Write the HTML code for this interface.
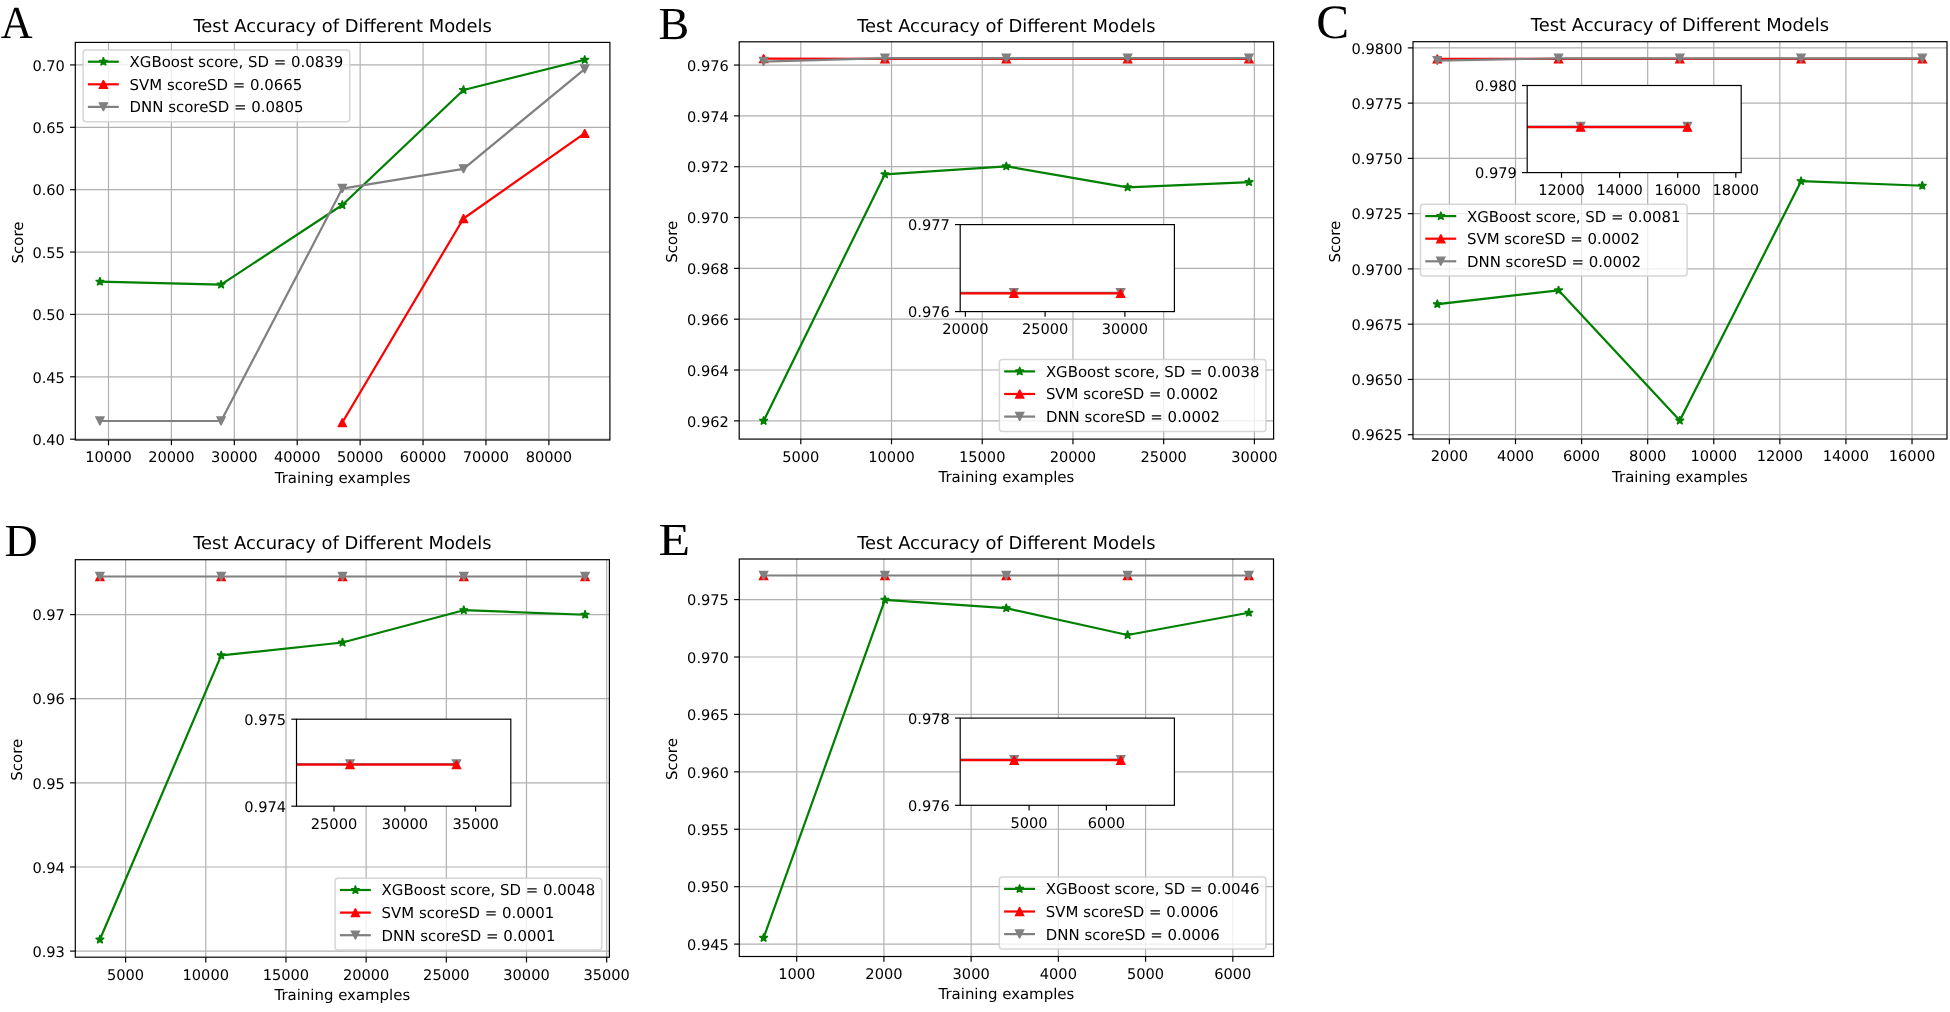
<!DOCTYPE html>
<html><head><meta charset="utf-8"><title>Test Accuracy of Different Models</title>
<style>
html,body{margin:0;padding:0;background:#fff;}
body{width:1950px;height:1012px;overflow:hidden;}
svg{display:block;filter:blur(0.3px);}
svg text{fill:#000;text-rendering:geometricPrecision;}
</style></head>
<body>
<svg width="1950" height="1012" viewBox="0 0 1950 1012">
<defs>
<clipPath id="Ac"><rect x="75.3" y="42.4" width="534.6" height="397.6"/></clipPath>
<clipPath id="Bc"><rect x="739.2" y="41.8" width="534.4" height="397.3"/></clipPath>
<clipPath id="Bi"><rect x="960.2" y="224.6" width="214.2" height="87"/></clipPath>
<clipPath id="Cc"><rect x="1413" y="41.7" width="534" height="397.3"/></clipPath>
<clipPath id="Ci"><rect x="1527.2" y="85.5" width="214" height="87.1"/></clipPath>
<clipPath id="Dc"><rect x="75.3" y="559.7" width="534.1" height="397.5"/></clipPath>
<clipPath id="Di"><rect x="296.5" y="719.2" width="214.3" height="87"/></clipPath>
<clipPath id="Ec"><rect x="739.3" y="559" width="534.2" height="397.5"/></clipPath>
<clipPath id="Ei"><rect x="960.2" y="718.1" width="214.2" height="87.2"/></clipPath>
</defs>
<rect x="0" y="0" width="1950" height="1012" fill="#fff"/>
<rect x="75.3" y="42.4" width="534.6" height="397.6" fill="#fff"/>
<line x1="108.5" y1="42.4" x2="108.5" y2="440" stroke="#b0b0b0" stroke-width="1.19"/>
<line x1="171.41" y1="42.4" x2="171.41" y2="440" stroke="#b0b0b0" stroke-width="1.19"/>
<line x1="234.32" y1="42.4" x2="234.32" y2="440" stroke="#b0b0b0" stroke-width="1.19"/>
<line x1="297.23" y1="42.4" x2="297.23" y2="440" stroke="#b0b0b0" stroke-width="1.19"/>
<line x1="360.14" y1="42.4" x2="360.14" y2="440" stroke="#b0b0b0" stroke-width="1.19"/>
<line x1="423.05" y1="42.4" x2="423.05" y2="440" stroke="#b0b0b0" stroke-width="1.19"/>
<line x1="485.96" y1="42.4" x2="485.96" y2="440" stroke="#b0b0b0" stroke-width="1.19"/>
<line x1="548.87" y1="42.4" x2="548.87" y2="440" stroke="#b0b0b0" stroke-width="1.19"/>
<line x1="75.3" y1="439.2" x2="609.9" y2="439.2" stroke="#b0b0b0" stroke-width="1.19"/>
<line x1="75.3" y1="376.82" x2="609.9" y2="376.82" stroke="#b0b0b0" stroke-width="1.19"/>
<line x1="75.3" y1="314.44" x2="609.9" y2="314.44" stroke="#b0b0b0" stroke-width="1.19"/>
<line x1="75.3" y1="252.06" x2="609.9" y2="252.06" stroke="#b0b0b0" stroke-width="1.19"/>
<line x1="75.3" y1="189.68" x2="609.9" y2="189.68" stroke="#b0b0b0" stroke-width="1.19"/>
<line x1="75.3" y1="127.3" x2="609.9" y2="127.3" stroke="#b0b0b0" stroke-width="1.19"/>
<line x1="75.3" y1="64.92" x2="609.9" y2="64.92" stroke="#b0b0b0" stroke-width="1.19"/>
<g clip-path="url(#Ac)">
<polyline points="99.9,281.7 221.1,284.6 342.3,205 463.5,90 584.7,59.8" fill="none" stroke="#008000" stroke-width="2.22" stroke-linejoin="round" stroke-linecap="square"/>
<path d="M99.9 277.25 L98.9 280.32 L95.67 280.32 L98.28 282.23 L97.28 285.3 L99.9 283.4 L102.52 285.3 L101.52 282.23 L104.13 280.32 L100.9 280.32 Z" fill="#008000" stroke="#008000" stroke-width="1.3" stroke-linejoin="bevel" stroke-miterlimit="2"/>
<path d="M221.1 280.15 L220.1 283.22 L216.87 283.22 L219.48 285.13 L218.48 288.2 L221.1 286.3 L223.72 288.2 L222.72 285.13 L225.33 283.22 L222.1 283.22 Z" fill="#008000" stroke="#008000" stroke-width="1.3" stroke-linejoin="bevel" stroke-miterlimit="2"/>
<path d="M342.3 200.55 L341.3 203.62 L338.07 203.62 L340.68 205.53 L339.68 208.6 L342.3 206.7 L344.92 208.6 L343.92 205.53 L346.53 203.62 L343.3 203.62 Z" fill="#008000" stroke="#008000" stroke-width="1.3" stroke-linejoin="bevel" stroke-miterlimit="2"/>
<path d="M463.5 85.55 L462.5 88.62 L459.27 88.62 L461.88 90.53 L460.88 93.6 L463.5 91.7 L466.12 93.6 L465.12 90.53 L467.73 88.62 L464.5 88.62 Z" fill="#008000" stroke="#008000" stroke-width="1.3" stroke-linejoin="bevel" stroke-miterlimit="2"/>
<path d="M584.7 55.35 L583.7 58.42 L580.47 58.42 L583.08 60.33 L582.08 63.4 L584.7 61.5 L587.32 63.4 L586.32 60.33 L588.93 58.42 L585.7 58.42 Z" fill="#008000" stroke="#008000" stroke-width="1.3" stroke-linejoin="bevel" stroke-miterlimit="2"/>
</g>
<g clip-path="url(#Ac)">
<polyline points="342.3,422.6 463.5,218.5 584.7,133.3" fill="none" stroke="#ff0000" stroke-width="2.22" stroke-linejoin="round" stroke-linecap="square"/>
<path d="M342.3 418.5 L338.2 426.7 L346.4 426.7 Z" fill="#ff0000" stroke="#ff0000" stroke-width="1.3" stroke-linejoin="miter" stroke-miterlimit="2"/>
<path d="M463.5 214.4 L459.4 222.6 L467.6 222.6 Z" fill="#ff0000" stroke="#ff0000" stroke-width="1.3" stroke-linejoin="miter" stroke-miterlimit="2"/>
<path d="M584.7 129.2 L580.6 137.4 L588.8 137.4 Z" fill="#ff0000" stroke="#ff0000" stroke-width="1.3" stroke-linejoin="miter" stroke-miterlimit="2"/>
</g>
<g clip-path="url(#Ac)">
<polyline points="99.9,421 221.1,421 342.3,188.6 463.5,168.9 584.7,69" fill="none" stroke="#808080" stroke-width="2.22" stroke-linejoin="round" stroke-linecap="square"/>
<path d="M99.9 425.1 L95.8 416.9 L104 416.9 Z" fill="#808080" stroke="#808080" stroke-width="1.3" stroke-linejoin="miter" stroke-miterlimit="2"/>
<path d="M221.1 425.1 L217 416.9 L225.2 416.9 Z" fill="#808080" stroke="#808080" stroke-width="1.3" stroke-linejoin="miter" stroke-miterlimit="2"/>
<path d="M342.3 192.7 L338.2 184.5 L346.4 184.5 Z" fill="#808080" stroke="#808080" stroke-width="1.3" stroke-linejoin="miter" stroke-miterlimit="2"/>
<path d="M463.5 173 L459.4 164.8 L467.6 164.8 Z" fill="#808080" stroke="#808080" stroke-width="1.3" stroke-linejoin="miter" stroke-miterlimit="2"/>
<path d="M584.7 73.1 L580.6 64.9 L588.8 64.9 Z" fill="#808080" stroke="#808080" stroke-width="1.3" stroke-linejoin="miter" stroke-miterlimit="2"/>
</g>
<rect x="75.3" y="42.4" width="534.6" height="397.6" fill="none" stroke="#000" stroke-width="1.19"/>
<line x1="108.5" y1="440" x2="108.5" y2="445.2" stroke="#000" stroke-width="1.19"/>
<text x="108.5" y="462.4" font-size="14.6" text-anchor="middle" font-family="'DejaVu Sans', 'Liberation Sans', sans-serif">10000</text>
<line x1="171.41" y1="440" x2="171.41" y2="445.2" stroke="#000" stroke-width="1.19"/>
<text x="171.41" y="462.4" font-size="14.6" text-anchor="middle" font-family="'DejaVu Sans', 'Liberation Sans', sans-serif">20000</text>
<line x1="234.32" y1="440" x2="234.32" y2="445.2" stroke="#000" stroke-width="1.19"/>
<text x="234.32" y="462.4" font-size="14.6" text-anchor="middle" font-family="'DejaVu Sans', 'Liberation Sans', sans-serif">30000</text>
<line x1="297.23" y1="440" x2="297.23" y2="445.2" stroke="#000" stroke-width="1.19"/>
<text x="297.23" y="462.4" font-size="14.6" text-anchor="middle" font-family="'DejaVu Sans', 'Liberation Sans', sans-serif">40000</text>
<line x1="360.14" y1="440" x2="360.14" y2="445.2" stroke="#000" stroke-width="1.19"/>
<text x="360.14" y="462.4" font-size="14.6" text-anchor="middle" font-family="'DejaVu Sans', 'Liberation Sans', sans-serif">50000</text>
<line x1="423.05" y1="440" x2="423.05" y2="445.2" stroke="#000" stroke-width="1.19"/>
<text x="423.05" y="462.4" font-size="14.6" text-anchor="middle" font-family="'DejaVu Sans', 'Liberation Sans', sans-serif">60000</text>
<line x1="485.96" y1="440" x2="485.96" y2="445.2" stroke="#000" stroke-width="1.19"/>
<text x="485.96" y="462.4" font-size="14.6" text-anchor="middle" font-family="'DejaVu Sans', 'Liberation Sans', sans-serif">70000</text>
<line x1="548.87" y1="440" x2="548.87" y2="445.2" stroke="#000" stroke-width="1.19"/>
<text x="548.87" y="462.4" font-size="14.6" text-anchor="middle" font-family="'DejaVu Sans', 'Liberation Sans', sans-serif">80000</text>
<line x1="70.1" y1="439.2" x2="75.3" y2="439.2" stroke="#000" stroke-width="1.19"/>
<text x="64.9" y="444.9" font-size="14.6" text-anchor="end" font-family="'DejaVu Sans', 'Liberation Sans', sans-serif">0.40</text>
<line x1="70.1" y1="376.82" x2="75.3" y2="376.82" stroke="#000" stroke-width="1.19"/>
<text x="64.9" y="382.52" font-size="14.6" text-anchor="end" font-family="'DejaVu Sans', 'Liberation Sans', sans-serif">0.45</text>
<line x1="70.1" y1="314.44" x2="75.3" y2="314.44" stroke="#000" stroke-width="1.19"/>
<text x="64.9" y="320.14" font-size="14.6" text-anchor="end" font-family="'DejaVu Sans', 'Liberation Sans', sans-serif">0.50</text>
<line x1="70.1" y1="252.06" x2="75.3" y2="252.06" stroke="#000" stroke-width="1.19"/>
<text x="64.9" y="257.76" font-size="14.6" text-anchor="end" font-family="'DejaVu Sans', 'Liberation Sans', sans-serif">0.55</text>
<line x1="70.1" y1="189.68" x2="75.3" y2="189.68" stroke="#000" stroke-width="1.19"/>
<text x="64.9" y="195.38" font-size="14.6" text-anchor="end" font-family="'DejaVu Sans', 'Liberation Sans', sans-serif">0.60</text>
<line x1="70.1" y1="127.3" x2="75.3" y2="127.3" stroke="#000" stroke-width="1.19"/>
<text x="64.9" y="133" font-size="14.6" text-anchor="end" font-family="'DejaVu Sans', 'Liberation Sans', sans-serif">0.65</text>
<line x1="70.1" y1="64.92" x2="75.3" y2="64.92" stroke="#000" stroke-width="1.19"/>
<text x="64.9" y="70.62" font-size="14.6" text-anchor="end" font-family="'DejaVu Sans', 'Liberation Sans', sans-serif">0.70</text>
<text x="342.6" y="482.6" font-size="14.95" text-anchor="middle" font-family="'DejaVu Sans', 'Liberation Sans', sans-serif">Training examples</text>
<text x="0" y="0" font-size="14.95" text-anchor="middle" font-family="'DejaVu Sans', 'Liberation Sans', sans-serif" transform="translate(22.7 242.5) rotate(-90)">Score</text>
<text x="342.6" y="32.1" font-size="17.9" text-anchor="middle" font-family="'DejaVu Sans', 'Liberation Sans', sans-serif">Test Accuracy of Different Models</text>
<rect x="83.1" y="49.9" width="266.6" height="71.8" rx="3" ry="3" fill="#fff" fill-opacity="0.8" stroke="#cccccc" stroke-opacity="0.8" stroke-width="1.49"/>
<line x1="89" y1="61.7" x2="117.7" y2="61.7" stroke="#008000" stroke-width="2.22" stroke-linecap="square"/>
<path d="M103.4 57.25 L102.4 60.32 L99.17 60.32 L101.78 62.23 L100.78 65.3 L103.4 63.4 L106.02 65.3 L105.02 62.23 L107.63 60.32 L104.4 60.32 Z" fill="#008000" stroke="#008000" stroke-width="1.3" stroke-linejoin="bevel" stroke-miterlimit="2"/>
<text x="129.6" y="67.15" font-size="14.95" text-anchor="start" font-family="'DejaVu Sans', 'Liberation Sans', sans-serif">XGBoost score, SD = 0.0839</text>
<line x1="89" y1="84.3" x2="117.7" y2="84.3" stroke="#ff0000" stroke-width="2.22" stroke-linecap="square"/>
<path d="M103.4 80.2 L99.3 88.4 L107.5 88.4 Z" fill="#ff0000" stroke="#ff0000" stroke-width="1.3" stroke-linejoin="miter" stroke-miterlimit="2"/>
<text x="129.6" y="89.75" font-size="14.95" text-anchor="start" font-family="'DejaVu Sans', 'Liberation Sans', sans-serif">SVM scoreSD = 0.0665</text>
<line x1="89" y1="106.9" x2="117.7" y2="106.9" stroke="#808080" stroke-width="2.22" stroke-linecap="square"/>
<path d="M103.4 111 L99.3 102.8 L107.5 102.8 Z" fill="#808080" stroke="#808080" stroke-width="1.3" stroke-linejoin="miter" stroke-miterlimit="2"/>
<text x="129.6" y="112.35" font-size="14.95" text-anchor="start" font-family="'DejaVu Sans', 'Liberation Sans', sans-serif">DNN scoreSD = 0.0805</text>
<text x="0" y="0" font-size="46" text-anchor="start" font-family="'Liberation Serif', 'Times New Roman', serif" transform="translate(0.8 37.8) scale(0.957 1.0)">A</text>
<rect x="739.2" y="41.8" width="534.4" height="397.3" fill="#fff"/>
<line x1="800.8" y1="41.8" x2="800.8" y2="439.1" stroke="#b0b0b0" stroke-width="1.19"/>
<line x1="891.52" y1="41.8" x2="891.52" y2="439.1" stroke="#b0b0b0" stroke-width="1.19"/>
<line x1="982.24" y1="41.8" x2="982.24" y2="439.1" stroke="#b0b0b0" stroke-width="1.19"/>
<line x1="1072.96" y1="41.8" x2="1072.96" y2="439.1" stroke="#b0b0b0" stroke-width="1.19"/>
<line x1="1163.68" y1="41.8" x2="1163.68" y2="439.1" stroke="#b0b0b0" stroke-width="1.19"/>
<line x1="1254.4" y1="41.8" x2="1254.4" y2="439.1" stroke="#b0b0b0" stroke-width="1.19"/>
<line x1="739.2" y1="420.85" x2="1273.6" y2="420.85" stroke="#b0b0b0" stroke-width="1.19"/>
<line x1="739.2" y1="370.02" x2="1273.6" y2="370.02" stroke="#b0b0b0" stroke-width="1.19"/>
<line x1="739.2" y1="319.19" x2="1273.6" y2="319.19" stroke="#b0b0b0" stroke-width="1.19"/>
<line x1="739.2" y1="268.36" x2="1273.6" y2="268.36" stroke="#b0b0b0" stroke-width="1.19"/>
<line x1="739.2" y1="217.53" x2="1273.6" y2="217.53" stroke="#b0b0b0" stroke-width="1.19"/>
<line x1="739.2" y1="166.7" x2="1273.6" y2="166.7" stroke="#b0b0b0" stroke-width="1.19"/>
<line x1="739.2" y1="115.87" x2="1273.6" y2="115.87" stroke="#b0b0b0" stroke-width="1.19"/>
<line x1="739.2" y1="65.04" x2="1273.6" y2="65.04" stroke="#b0b0b0" stroke-width="1.19"/>
<g clip-path="url(#Bc)">
<polyline points="763.6,420.9 884.95,174.3 1006.3,166.3 1127.65,187.3 1249,182.1" fill="none" stroke="#008000" stroke-width="2.22" stroke-linejoin="round" stroke-linecap="square"/>
<path d="M763.6 416.45 L762.6 419.52 L759.37 419.52 L761.98 421.43 L760.98 424.5 L763.6 422.6 L766.22 424.5 L765.22 421.43 L767.83 419.52 L764.6 419.52 Z" fill="#008000" stroke="#008000" stroke-width="1.3" stroke-linejoin="bevel" stroke-miterlimit="2"/>
<path d="M884.95 169.85 L883.95 172.92 L880.72 172.92 L883.33 174.83 L882.33 177.9 L884.95 176 L887.57 177.9 L886.57 174.83 L889.18 172.92 L885.95 172.92 Z" fill="#008000" stroke="#008000" stroke-width="1.3" stroke-linejoin="bevel" stroke-miterlimit="2"/>
<path d="M1006.3 161.85 L1005.3 164.92 L1002.07 164.92 L1004.68 166.83 L1003.68 169.9 L1006.3 168 L1008.92 169.9 L1007.92 166.83 L1010.53 164.92 L1007.3 164.92 Z" fill="#008000" stroke="#008000" stroke-width="1.3" stroke-linejoin="bevel" stroke-miterlimit="2"/>
<path d="M1127.65 182.85 L1126.65 185.92 L1123.42 185.92 L1126.03 187.83 L1125.03 190.9 L1127.65 189 L1130.27 190.9 L1129.27 187.83 L1131.88 185.92 L1128.65 185.92 Z" fill="#008000" stroke="#008000" stroke-width="1.3" stroke-linejoin="bevel" stroke-miterlimit="2"/>
<path d="M1249 177.65 L1248 180.72 L1244.77 180.72 L1247.38 182.63 L1246.38 185.7 L1249 183.8 L1251.62 185.7 L1250.62 182.63 L1253.23 180.72 L1250 180.72 Z" fill="#008000" stroke="#008000" stroke-width="1.3" stroke-linejoin="bevel" stroke-miterlimit="2"/>
</g>
<g clip-path="url(#Bc)">
<polyline points="763.6,58.6 884.95,58.8 1006.3,58.8 1127.65,58.8 1249,58.8" fill="none" stroke="#ff0000" stroke-width="2.22" stroke-linejoin="round" stroke-linecap="square"/>
<path d="M763.6 54.5 L759.5 62.7 L767.7 62.7 Z" fill="#ff0000" stroke="#ff0000" stroke-width="1.3" stroke-linejoin="miter" stroke-miterlimit="2"/>
<path d="M884.95 54.7 L880.85 62.9 L889.05 62.9 Z" fill="#ff0000" stroke="#ff0000" stroke-width="1.3" stroke-linejoin="miter" stroke-miterlimit="2"/>
<path d="M1006.3 54.7 L1002.2 62.9 L1010.4 62.9 Z" fill="#ff0000" stroke="#ff0000" stroke-width="1.3" stroke-linejoin="miter" stroke-miterlimit="2"/>
<path d="M1127.65 54.7 L1123.55 62.9 L1131.75 62.9 Z" fill="#ff0000" stroke="#ff0000" stroke-width="1.3" stroke-linejoin="miter" stroke-miterlimit="2"/>
<path d="M1249 54.7 L1244.9 62.9 L1253.1 62.9 Z" fill="#ff0000" stroke="#ff0000" stroke-width="1.3" stroke-linejoin="miter" stroke-miterlimit="2"/>
</g>
<g clip-path="url(#Bc)">
<polyline points="763.6,61.5 884.95,58.2 1006.3,58.2 1127.65,58.2 1249,58.2" fill="none" stroke="#808080" stroke-width="2.22" stroke-linejoin="round" stroke-linecap="square"/>
<path d="M763.6 65.6 L759.5 57.4 L767.7 57.4 Z" fill="#808080" stroke="#808080" stroke-width="1.3" stroke-linejoin="miter" stroke-miterlimit="2"/>
<path d="M884.95 62.3 L880.85 54.1 L889.05 54.1 Z" fill="#808080" stroke="#808080" stroke-width="1.3" stroke-linejoin="miter" stroke-miterlimit="2"/>
<path d="M1006.3 62.3 L1002.2 54.1 L1010.4 54.1 Z" fill="#808080" stroke="#808080" stroke-width="1.3" stroke-linejoin="miter" stroke-miterlimit="2"/>
<path d="M1127.65 62.3 L1123.55 54.1 L1131.75 54.1 Z" fill="#808080" stroke="#808080" stroke-width="1.3" stroke-linejoin="miter" stroke-miterlimit="2"/>
<path d="M1249 62.3 L1244.9 54.1 L1253.1 54.1 Z" fill="#808080" stroke="#808080" stroke-width="1.3" stroke-linejoin="miter" stroke-miterlimit="2"/>
</g>
<rect x="739.2" y="41.8" width="534.4" height="397.3" fill="none" stroke="#000" stroke-width="1.19"/>
<line x1="800.8" y1="439.1" x2="800.8" y2="444.3" stroke="#000" stroke-width="1.19"/>
<text x="800.8" y="461.5" font-size="14.6" text-anchor="middle" font-family="'DejaVu Sans', 'Liberation Sans', sans-serif">5000</text>
<line x1="891.52" y1="439.1" x2="891.52" y2="444.3" stroke="#000" stroke-width="1.19"/>
<text x="891.52" y="461.5" font-size="14.6" text-anchor="middle" font-family="'DejaVu Sans', 'Liberation Sans', sans-serif">10000</text>
<line x1="982.24" y1="439.1" x2="982.24" y2="444.3" stroke="#000" stroke-width="1.19"/>
<text x="982.24" y="461.5" font-size="14.6" text-anchor="middle" font-family="'DejaVu Sans', 'Liberation Sans', sans-serif">15000</text>
<line x1="1072.96" y1="439.1" x2="1072.96" y2="444.3" stroke="#000" stroke-width="1.19"/>
<text x="1072.96" y="461.5" font-size="14.6" text-anchor="middle" font-family="'DejaVu Sans', 'Liberation Sans', sans-serif">20000</text>
<line x1="1163.68" y1="439.1" x2="1163.68" y2="444.3" stroke="#000" stroke-width="1.19"/>
<text x="1163.68" y="461.5" font-size="14.6" text-anchor="middle" font-family="'DejaVu Sans', 'Liberation Sans', sans-serif">25000</text>
<line x1="1254.4" y1="439.1" x2="1254.4" y2="444.3" stroke="#000" stroke-width="1.19"/>
<text x="1254.4" y="461.5" font-size="14.6" text-anchor="middle" font-family="'DejaVu Sans', 'Liberation Sans', sans-serif">30000</text>
<line x1="734" y1="420.85" x2="739.2" y2="420.85" stroke="#000" stroke-width="1.19"/>
<text x="728.8" y="426.55" font-size="14.6" text-anchor="end" font-family="'DejaVu Sans', 'Liberation Sans', sans-serif">0.962</text>
<line x1="734" y1="370.02" x2="739.2" y2="370.02" stroke="#000" stroke-width="1.19"/>
<text x="728.8" y="375.72" font-size="14.6" text-anchor="end" font-family="'DejaVu Sans', 'Liberation Sans', sans-serif">0.964</text>
<line x1="734" y1="319.19" x2="739.2" y2="319.19" stroke="#000" stroke-width="1.19"/>
<text x="728.8" y="324.89" font-size="14.6" text-anchor="end" font-family="'DejaVu Sans', 'Liberation Sans', sans-serif">0.966</text>
<line x1="734" y1="268.36" x2="739.2" y2="268.36" stroke="#000" stroke-width="1.19"/>
<text x="728.8" y="274.06" font-size="14.6" text-anchor="end" font-family="'DejaVu Sans', 'Liberation Sans', sans-serif">0.968</text>
<line x1="734" y1="217.53" x2="739.2" y2="217.53" stroke="#000" stroke-width="1.19"/>
<text x="728.8" y="223.23" font-size="14.6" text-anchor="end" font-family="'DejaVu Sans', 'Liberation Sans', sans-serif">0.970</text>
<line x1="734" y1="166.7" x2="739.2" y2="166.7" stroke="#000" stroke-width="1.19"/>
<text x="728.8" y="172.4" font-size="14.6" text-anchor="end" font-family="'DejaVu Sans', 'Liberation Sans', sans-serif">0.972</text>
<line x1="734" y1="115.87" x2="739.2" y2="115.87" stroke="#000" stroke-width="1.19"/>
<text x="728.8" y="121.57" font-size="14.6" text-anchor="end" font-family="'DejaVu Sans', 'Liberation Sans', sans-serif">0.974</text>
<line x1="734" y1="65.04" x2="739.2" y2="65.04" stroke="#000" stroke-width="1.19"/>
<text x="728.8" y="70.74" font-size="14.6" text-anchor="end" font-family="'DejaVu Sans', 'Liberation Sans', sans-serif">0.976</text>
<text x="1006.4" y="481.7" font-size="14.95" text-anchor="middle" font-family="'DejaVu Sans', 'Liberation Sans', sans-serif">Training examples</text>
<text x="0" y="0" font-size="14.95" text-anchor="middle" font-family="'DejaVu Sans', 'Liberation Sans', sans-serif" transform="translate(676.8 241.75) rotate(-90)">Score</text>
<text x="1006.4" y="31.5" font-size="17.9" text-anchor="middle" font-family="'DejaVu Sans', 'Liberation Sans', sans-serif">Test Accuracy of Different Models</text>
<rect x="960.2" y="224.6" width="214.2" height="87" fill="#fff"/>
<g clip-path="url(#Bi)">
<polyline points="800.5,292.8 907.2,292.8 1013.9,292.8 1120.6,292.8" fill="none" stroke="#808080" stroke-width="2.22" stroke-linejoin="round" stroke-linecap="square"/>
<path d="M800.5 296.9 L796.4 288.7 L804.6 288.7 Z" fill="#808080" stroke="#808080" stroke-width="1.3" stroke-linejoin="miter" stroke-miterlimit="2"/>
<path d="M907.2 296.9 L903.1 288.7 L911.3 288.7 Z" fill="#808080" stroke="#808080" stroke-width="1.3" stroke-linejoin="miter" stroke-miterlimit="2"/>
<path d="M1013.9 296.9 L1009.8 288.7 L1018 288.7 Z" fill="#808080" stroke="#808080" stroke-width="1.3" stroke-linejoin="miter" stroke-miterlimit="2"/>
<path d="M1120.6 296.9 L1116.5 288.7 L1124.7 288.7 Z" fill="#808080" stroke="#808080" stroke-width="1.3" stroke-linejoin="miter" stroke-miterlimit="2"/>
</g>
<g clip-path="url(#Bi)">
<polyline points="800.5,293.3 907.2,293.3 1013.9,293.3 1120.6,293.3" fill="none" stroke="#ff0000" stroke-width="2.22" stroke-linejoin="round" stroke-linecap="square"/>
<path d="M800.5 289.2 L796.4 297.4 L804.6 297.4 Z" fill="#ff0000" stroke="#ff0000" stroke-width="1.3" stroke-linejoin="miter" stroke-miterlimit="2"/>
<path d="M907.2 289.2 L903.1 297.4 L911.3 297.4 Z" fill="#ff0000" stroke="#ff0000" stroke-width="1.3" stroke-linejoin="miter" stroke-miterlimit="2"/>
<path d="M1013.9 289.2 L1009.8 297.4 L1018 297.4 Z" fill="#ff0000" stroke="#ff0000" stroke-width="1.3" stroke-linejoin="miter" stroke-miterlimit="2"/>
<path d="M1120.6 289.2 L1116.5 297.4 L1124.7 297.4 Z" fill="#ff0000" stroke="#ff0000" stroke-width="1.3" stroke-linejoin="miter" stroke-miterlimit="2"/>
</g>
<rect x="960.2" y="224.6" width="214.2" height="87" fill="none" stroke="#000" stroke-width="1.19"/>
<line x1="965.4" y1="311.6" x2="965.4" y2="316.8" stroke="#000" stroke-width="1.19"/>
<text x="965.4" y="334" font-size="14.6" text-anchor="middle" font-family="'DejaVu Sans', 'Liberation Sans', sans-serif">20000</text>
<line x1="1045.1" y1="311.6" x2="1045.1" y2="316.8" stroke="#000" stroke-width="1.19"/>
<text x="1045.1" y="334" font-size="14.6" text-anchor="middle" font-family="'DejaVu Sans', 'Liberation Sans', sans-serif">25000</text>
<line x1="1124.9" y1="311.6" x2="1124.9" y2="316.8" stroke="#000" stroke-width="1.19"/>
<text x="1124.9" y="334" font-size="14.6" text-anchor="middle" font-family="'DejaVu Sans', 'Liberation Sans', sans-serif">30000</text>
<line x1="955" y1="224.6" x2="960.2" y2="224.6" stroke="#000" stroke-width="1.19"/>
<text x="949.8" y="230.3" font-size="14.6" text-anchor="end" font-family="'DejaVu Sans', 'Liberation Sans', sans-serif">0.977</text>
<line x1="955" y1="311.6" x2="960.2" y2="311.6" stroke="#000" stroke-width="1.19"/>
<text x="949.8" y="317.3" font-size="14.6" text-anchor="end" font-family="'DejaVu Sans', 'Liberation Sans', sans-serif">0.976</text>
<rect x="999.4" y="359.6" width="266.6" height="71.8" rx="3" ry="3" fill="#fff" fill-opacity="0.8" stroke="#cccccc" stroke-opacity="0.8" stroke-width="1.49"/>
<line x1="1005.3" y1="371.4" x2="1034" y2="371.4" stroke="#008000" stroke-width="2.22" stroke-linecap="square"/>
<path d="M1019.7 366.95 L1018.7 370.02 L1015.47 370.02 L1018.08 371.93 L1017.08 375 L1019.7 373.1 L1022.32 375 L1021.32 371.93 L1023.93 370.02 L1020.7 370.02 Z" fill="#008000" stroke="#008000" stroke-width="1.3" stroke-linejoin="bevel" stroke-miterlimit="2"/>
<text x="1045.9" y="376.85" font-size="14.95" text-anchor="start" font-family="'DejaVu Sans', 'Liberation Sans', sans-serif">XGBoost score, SD = 0.0038</text>
<line x1="1005.3" y1="394" x2="1034" y2="394" stroke="#ff0000" stroke-width="2.22" stroke-linecap="square"/>
<path d="M1019.7 389.9 L1015.6 398.1 L1023.8 398.1 Z" fill="#ff0000" stroke="#ff0000" stroke-width="1.3" stroke-linejoin="miter" stroke-miterlimit="2"/>
<text x="1045.9" y="399.45" font-size="14.95" text-anchor="start" font-family="'DejaVu Sans', 'Liberation Sans', sans-serif">SVM scoreSD = 0.0002</text>
<line x1="1005.3" y1="416.6" x2="1034" y2="416.6" stroke="#808080" stroke-width="2.22" stroke-linecap="square"/>
<path d="M1019.7 420.7 L1015.6 412.5 L1023.8 412.5 Z" fill="#808080" stroke="#808080" stroke-width="1.3" stroke-linejoin="miter" stroke-miterlimit="2"/>
<text x="1045.9" y="422.05" font-size="14.95" text-anchor="start" font-family="'DejaVu Sans', 'Liberation Sans', sans-serif">DNN scoreSD = 0.0002</text>
<text x="0" y="0" font-size="46" text-anchor="start" font-family="'Liberation Serif', 'Times New Roman', serif" transform="translate(658.5 38.6) scale(1.0 1.0)">B</text>
<rect x="1413" y="41.7" width="534" height="397.3" fill="#fff"/>
<line x1="1449.4" y1="41.7" x2="1449.4" y2="439" stroke="#b0b0b0" stroke-width="1.19"/>
<line x1="1515.49" y1="41.7" x2="1515.49" y2="439" stroke="#b0b0b0" stroke-width="1.19"/>
<line x1="1581.58" y1="41.7" x2="1581.58" y2="439" stroke="#b0b0b0" stroke-width="1.19"/>
<line x1="1647.67" y1="41.7" x2="1647.67" y2="439" stroke="#b0b0b0" stroke-width="1.19"/>
<line x1="1713.76" y1="41.7" x2="1713.76" y2="439" stroke="#b0b0b0" stroke-width="1.19"/>
<line x1="1779.85" y1="41.7" x2="1779.85" y2="439" stroke="#b0b0b0" stroke-width="1.19"/>
<line x1="1845.94" y1="41.7" x2="1845.94" y2="439" stroke="#b0b0b0" stroke-width="1.19"/>
<line x1="1912.03" y1="41.7" x2="1912.03" y2="439" stroke="#b0b0b0" stroke-width="1.19"/>
<line x1="1413" y1="434.7" x2="1947" y2="434.7" stroke="#b0b0b0" stroke-width="1.19"/>
<line x1="1413" y1="379.44" x2="1947" y2="379.44" stroke="#b0b0b0" stroke-width="1.19"/>
<line x1="1413" y1="324.18" x2="1947" y2="324.18" stroke="#b0b0b0" stroke-width="1.19"/>
<line x1="1413" y1="268.92" x2="1947" y2="268.92" stroke="#b0b0b0" stroke-width="1.19"/>
<line x1="1413" y1="213.66" x2="1947" y2="213.66" stroke="#b0b0b0" stroke-width="1.19"/>
<line x1="1413" y1="158.4" x2="1947" y2="158.4" stroke="#b0b0b0" stroke-width="1.19"/>
<line x1="1413" y1="103.14" x2="1947" y2="103.14" stroke="#b0b0b0" stroke-width="1.19"/>
<line x1="1413" y1="47.88" x2="1947" y2="47.88" stroke="#b0b0b0" stroke-width="1.19"/>
<g clip-path="url(#Cc)">
<polyline points="1437.3,304.2 1558.55,290.3 1679.8,420.6 1801.05,181.2 1922.3,185.7" fill="none" stroke="#008000" stroke-width="2.22" stroke-linejoin="round" stroke-linecap="square"/>
<path d="M1437.3 299.75 L1436.3 302.82 L1433.07 302.82 L1435.68 304.73 L1434.68 307.8 L1437.3 305.9 L1439.92 307.8 L1438.92 304.73 L1441.53 302.82 L1438.3 302.82 Z" fill="#008000" stroke="#008000" stroke-width="1.3" stroke-linejoin="bevel" stroke-miterlimit="2"/>
<path d="M1558.55 285.85 L1557.55 288.92 L1554.32 288.92 L1556.93 290.83 L1555.93 293.9 L1558.55 292 L1561.17 293.9 L1560.17 290.83 L1562.78 288.92 L1559.55 288.92 Z" fill="#008000" stroke="#008000" stroke-width="1.3" stroke-linejoin="bevel" stroke-miterlimit="2"/>
<path d="M1679.8 416.15 L1678.8 419.22 L1675.57 419.22 L1678.18 421.13 L1677.18 424.2 L1679.8 422.3 L1682.42 424.2 L1681.42 421.13 L1684.03 419.22 L1680.8 419.22 Z" fill="#008000" stroke="#008000" stroke-width="1.3" stroke-linejoin="bevel" stroke-miterlimit="2"/>
<path d="M1801.05 176.75 L1800.05 179.82 L1796.82 179.82 L1799.43 181.73 L1798.43 184.8 L1801.05 182.9 L1803.67 184.8 L1802.67 181.73 L1805.28 179.82 L1802.05 179.82 Z" fill="#008000" stroke="#008000" stroke-width="1.3" stroke-linejoin="bevel" stroke-miterlimit="2"/>
<path d="M1922.3 181.25 L1921.3 184.32 L1918.07 184.32 L1920.68 186.23 L1919.68 189.3 L1922.3 187.4 L1924.92 189.3 L1923.92 186.23 L1926.53 184.32 L1923.3 184.32 Z" fill="#008000" stroke="#008000" stroke-width="1.3" stroke-linejoin="bevel" stroke-miterlimit="2"/>
</g>
<g clip-path="url(#Cc)">
<polyline points="1437.3,58.8 1558.55,58.8 1679.8,58.8 1801.05,58.8 1922.3,58.8" fill="none" stroke="#ff0000" stroke-width="2.22" stroke-linejoin="round" stroke-linecap="square"/>
<path d="M1437.3 54.7 L1433.2 62.9 L1441.4 62.9 Z" fill="#ff0000" stroke="#ff0000" stroke-width="1.3" stroke-linejoin="miter" stroke-miterlimit="2"/>
<path d="M1558.55 54.7 L1554.45 62.9 L1562.65 62.9 Z" fill="#ff0000" stroke="#ff0000" stroke-width="1.3" stroke-linejoin="miter" stroke-miterlimit="2"/>
<path d="M1679.8 54.7 L1675.7 62.9 L1683.9 62.9 Z" fill="#ff0000" stroke="#ff0000" stroke-width="1.3" stroke-linejoin="miter" stroke-miterlimit="2"/>
<path d="M1801.05 54.7 L1796.95 62.9 L1805.15 62.9 Z" fill="#ff0000" stroke="#ff0000" stroke-width="1.3" stroke-linejoin="miter" stroke-miterlimit="2"/>
<path d="M1922.3 54.7 L1918.2 62.9 L1926.4 62.9 Z" fill="#ff0000" stroke="#ff0000" stroke-width="1.3" stroke-linejoin="miter" stroke-miterlimit="2"/>
</g>
<g clip-path="url(#Cc)">
<polyline points="1437.3,60.7 1558.55,58.3 1679.8,58.3 1801.05,58.3 1922.3,58.3" fill="none" stroke="#808080" stroke-width="2.22" stroke-linejoin="round" stroke-linecap="square"/>
<path d="M1437.3 64.8 L1433.2 56.6 L1441.4 56.6 Z" fill="#808080" stroke="#808080" stroke-width="1.3" stroke-linejoin="miter" stroke-miterlimit="2"/>
<path d="M1558.55 62.4 L1554.45 54.2 L1562.65 54.2 Z" fill="#808080" stroke="#808080" stroke-width="1.3" stroke-linejoin="miter" stroke-miterlimit="2"/>
<path d="M1679.8 62.4 L1675.7 54.2 L1683.9 54.2 Z" fill="#808080" stroke="#808080" stroke-width="1.3" stroke-linejoin="miter" stroke-miterlimit="2"/>
<path d="M1801.05 62.4 L1796.95 54.2 L1805.15 54.2 Z" fill="#808080" stroke="#808080" stroke-width="1.3" stroke-linejoin="miter" stroke-miterlimit="2"/>
<path d="M1922.3 62.4 L1918.2 54.2 L1926.4 54.2 Z" fill="#808080" stroke="#808080" stroke-width="1.3" stroke-linejoin="miter" stroke-miterlimit="2"/>
</g>
<rect x="1413" y="41.7" width="534" height="397.3" fill="none" stroke="#000" stroke-width="1.19"/>
<line x1="1449.4" y1="439" x2="1449.4" y2="444.2" stroke="#000" stroke-width="1.19"/>
<text x="1449.4" y="461.4" font-size="14.6" text-anchor="middle" font-family="'DejaVu Sans', 'Liberation Sans', sans-serif">2000</text>
<line x1="1515.49" y1="439" x2="1515.49" y2="444.2" stroke="#000" stroke-width="1.19"/>
<text x="1515.49" y="461.4" font-size="14.6" text-anchor="middle" font-family="'DejaVu Sans', 'Liberation Sans', sans-serif">4000</text>
<line x1="1581.58" y1="439" x2="1581.58" y2="444.2" stroke="#000" stroke-width="1.19"/>
<text x="1581.58" y="461.4" font-size="14.6" text-anchor="middle" font-family="'DejaVu Sans', 'Liberation Sans', sans-serif">6000</text>
<line x1="1647.67" y1="439" x2="1647.67" y2="444.2" stroke="#000" stroke-width="1.19"/>
<text x="1647.67" y="461.4" font-size="14.6" text-anchor="middle" font-family="'DejaVu Sans', 'Liberation Sans', sans-serif">8000</text>
<line x1="1713.76" y1="439" x2="1713.76" y2="444.2" stroke="#000" stroke-width="1.19"/>
<text x="1713.76" y="461.4" font-size="14.6" text-anchor="middle" font-family="'DejaVu Sans', 'Liberation Sans', sans-serif">10000</text>
<line x1="1779.85" y1="439" x2="1779.85" y2="444.2" stroke="#000" stroke-width="1.19"/>
<text x="1779.85" y="461.4" font-size="14.6" text-anchor="middle" font-family="'DejaVu Sans', 'Liberation Sans', sans-serif">12000</text>
<line x1="1845.94" y1="439" x2="1845.94" y2="444.2" stroke="#000" stroke-width="1.19"/>
<text x="1845.94" y="461.4" font-size="14.6" text-anchor="middle" font-family="'DejaVu Sans', 'Liberation Sans', sans-serif">14000</text>
<line x1="1912.03" y1="439" x2="1912.03" y2="444.2" stroke="#000" stroke-width="1.19"/>
<text x="1912.03" y="461.4" font-size="14.6" text-anchor="middle" font-family="'DejaVu Sans', 'Liberation Sans', sans-serif">16000</text>
<line x1="1407.8" y1="434.7" x2="1413" y2="434.7" stroke="#000" stroke-width="1.19"/>
<text x="1402.6" y="440.4" font-size="14.6" text-anchor="end" font-family="'DejaVu Sans', 'Liberation Sans', sans-serif">0.9625</text>
<line x1="1407.8" y1="379.44" x2="1413" y2="379.44" stroke="#000" stroke-width="1.19"/>
<text x="1402.6" y="385.14" font-size="14.6" text-anchor="end" font-family="'DejaVu Sans', 'Liberation Sans', sans-serif">0.9650</text>
<line x1="1407.8" y1="324.18" x2="1413" y2="324.18" stroke="#000" stroke-width="1.19"/>
<text x="1402.6" y="329.88" font-size="14.6" text-anchor="end" font-family="'DejaVu Sans', 'Liberation Sans', sans-serif">0.9675</text>
<line x1="1407.8" y1="268.92" x2="1413" y2="268.92" stroke="#000" stroke-width="1.19"/>
<text x="1402.6" y="274.62" font-size="14.6" text-anchor="end" font-family="'DejaVu Sans', 'Liberation Sans', sans-serif">0.9700</text>
<line x1="1407.8" y1="213.66" x2="1413" y2="213.66" stroke="#000" stroke-width="1.19"/>
<text x="1402.6" y="219.36" font-size="14.6" text-anchor="end" font-family="'DejaVu Sans', 'Liberation Sans', sans-serif">0.9725</text>
<line x1="1407.8" y1="158.4" x2="1413" y2="158.4" stroke="#000" stroke-width="1.19"/>
<text x="1402.6" y="164.1" font-size="14.6" text-anchor="end" font-family="'DejaVu Sans', 'Liberation Sans', sans-serif">0.9750</text>
<line x1="1407.8" y1="103.14" x2="1413" y2="103.14" stroke="#000" stroke-width="1.19"/>
<text x="1402.6" y="108.84" font-size="14.6" text-anchor="end" font-family="'DejaVu Sans', 'Liberation Sans', sans-serif">0.9775</text>
<line x1="1407.8" y1="47.88" x2="1413" y2="47.88" stroke="#000" stroke-width="1.19"/>
<text x="1402.6" y="53.58" font-size="14.6" text-anchor="end" font-family="'DejaVu Sans', 'Liberation Sans', sans-serif">0.9800</text>
<text x="1680" y="481.6" font-size="14.95" text-anchor="middle" font-family="'DejaVu Sans', 'Liberation Sans', sans-serif">Training examples</text>
<text x="0" y="0" font-size="14.95" text-anchor="middle" font-family="'DejaVu Sans', 'Liberation Sans', sans-serif" transform="translate(1340.3 241.65) rotate(-90)">Score</text>
<text x="1680" y="31.4" font-size="17.9" text-anchor="middle" font-family="'DejaVu Sans', 'Liberation Sans', sans-serif">Test Accuracy of Different Models</text>
<rect x="1527.2" y="85.5" width="214" height="87.1" fill="#fff"/>
<g clip-path="url(#Ci)">
<polyline points="1367,126.6 1473.8,126.6 1580.6,126.6 1687.4,126.6" fill="none" stroke="#808080" stroke-width="2.22" stroke-linejoin="round" stroke-linecap="square"/>
<path d="M1367 130.7 L1362.9 122.5 L1371.1 122.5 Z" fill="#808080" stroke="#808080" stroke-width="1.3" stroke-linejoin="miter" stroke-miterlimit="2"/>
<path d="M1473.8 130.7 L1469.7 122.5 L1477.9 122.5 Z" fill="#808080" stroke="#808080" stroke-width="1.3" stroke-linejoin="miter" stroke-miterlimit="2"/>
<path d="M1580.6 130.7 L1576.5 122.5 L1584.7 122.5 Z" fill="#808080" stroke="#808080" stroke-width="1.3" stroke-linejoin="miter" stroke-miterlimit="2"/>
<path d="M1687.4 130.7 L1683.3 122.5 L1691.5 122.5 Z" fill="#808080" stroke="#808080" stroke-width="1.3" stroke-linejoin="miter" stroke-miterlimit="2"/>
</g>
<g clip-path="url(#Ci)">
<polyline points="1367,127.1 1473.8,127.1 1580.6,127.1 1687.4,127.1" fill="none" stroke="#ff0000" stroke-width="2.22" stroke-linejoin="round" stroke-linecap="square"/>
<path d="M1367 123 L1362.9 131.2 L1371.1 131.2 Z" fill="#ff0000" stroke="#ff0000" stroke-width="1.3" stroke-linejoin="miter" stroke-miterlimit="2"/>
<path d="M1473.8 123 L1469.7 131.2 L1477.9 131.2 Z" fill="#ff0000" stroke="#ff0000" stroke-width="1.3" stroke-linejoin="miter" stroke-miterlimit="2"/>
<path d="M1580.6 123 L1576.5 131.2 L1584.7 131.2 Z" fill="#ff0000" stroke="#ff0000" stroke-width="1.3" stroke-linejoin="miter" stroke-miterlimit="2"/>
<path d="M1687.4 123 L1683.3 131.2 L1691.5 131.2 Z" fill="#ff0000" stroke="#ff0000" stroke-width="1.3" stroke-linejoin="miter" stroke-miterlimit="2"/>
</g>
<rect x="1527.2" y="85.5" width="214" height="87.1" fill="none" stroke="#000" stroke-width="1.19"/>
<line x1="1561.5" y1="172.6" x2="1561.5" y2="177.8" stroke="#000" stroke-width="1.19"/>
<text x="1561.5" y="195" font-size="14.6" text-anchor="middle" font-family="'DejaVu Sans', 'Liberation Sans', sans-serif">12000</text>
<line x1="1619.6" y1="172.6" x2="1619.6" y2="177.8" stroke="#000" stroke-width="1.19"/>
<text x="1619.6" y="195" font-size="14.6" text-anchor="middle" font-family="'DejaVu Sans', 'Liberation Sans', sans-serif">14000</text>
<line x1="1677.7" y1="172.6" x2="1677.7" y2="177.8" stroke="#000" stroke-width="1.19"/>
<text x="1677.7" y="195" font-size="14.6" text-anchor="middle" font-family="'DejaVu Sans', 'Liberation Sans', sans-serif">16000</text>
<line x1="1735.8" y1="172.6" x2="1735.8" y2="177.8" stroke="#000" stroke-width="1.19"/>
<text x="1735.8" y="195" font-size="14.6" text-anchor="middle" font-family="'DejaVu Sans', 'Liberation Sans', sans-serif">18000</text>
<line x1="1522" y1="85.5" x2="1527.2" y2="85.5" stroke="#000" stroke-width="1.19"/>
<text x="1516.8" y="91.2" font-size="14.6" text-anchor="end" font-family="'DejaVu Sans', 'Liberation Sans', sans-serif">0.980</text>
<line x1="1522" y1="172.6" x2="1527.2" y2="172.6" stroke="#000" stroke-width="1.19"/>
<text x="1516.8" y="178.3" font-size="14.6" text-anchor="end" font-family="'DejaVu Sans', 'Liberation Sans', sans-serif">0.979</text>
<rect x="1420.5" y="204.3" width="266.6" height="71.8" rx="3" ry="3" fill="#fff" fill-opacity="0.8" stroke="#cccccc" stroke-opacity="0.8" stroke-width="1.49"/>
<line x1="1426.4" y1="216.1" x2="1455.1" y2="216.1" stroke="#008000" stroke-width="2.22" stroke-linecap="square"/>
<path d="M1440.8 211.65 L1439.8 214.72 L1436.57 214.72 L1439.18 216.63 L1438.18 219.7 L1440.8 217.8 L1443.42 219.7 L1442.42 216.63 L1445.03 214.72 L1441.8 214.72 Z" fill="#008000" stroke="#008000" stroke-width="1.3" stroke-linejoin="bevel" stroke-miterlimit="2"/>
<text x="1467" y="221.55" font-size="14.95" text-anchor="start" font-family="'DejaVu Sans', 'Liberation Sans', sans-serif">XGBoost score, SD = 0.0081</text>
<line x1="1426.4" y1="238.7" x2="1455.1" y2="238.7" stroke="#ff0000" stroke-width="2.22" stroke-linecap="square"/>
<path d="M1440.8 234.6 L1436.7 242.8 L1444.9 242.8 Z" fill="#ff0000" stroke="#ff0000" stroke-width="1.3" stroke-linejoin="miter" stroke-miterlimit="2"/>
<text x="1467" y="244.15" font-size="14.95" text-anchor="start" font-family="'DejaVu Sans', 'Liberation Sans', sans-serif">SVM scoreSD = 0.0002</text>
<line x1="1426.4" y1="261.3" x2="1455.1" y2="261.3" stroke="#808080" stroke-width="2.22" stroke-linecap="square"/>
<path d="M1440.8 265.4 L1436.7 257.2 L1444.9 257.2 Z" fill="#808080" stroke="#808080" stroke-width="1.3" stroke-linejoin="miter" stroke-miterlimit="2"/>
<text x="1467" y="266.75" font-size="14.95" text-anchor="start" font-family="'DejaVu Sans', 'Liberation Sans', sans-serif">DNN scoreSD = 0.0002</text>
<text x="0" y="0" font-size="46" text-anchor="start" font-family="'Liberation Serif', 'Times New Roman', serif" transform="translate(1316.3 37.8) scale(1.07 1.04)">C</text>
<rect x="75.3" y="559.7" width="534.1" height="397.5" fill="#fff"/>
<line x1="125.6" y1="559.7" x2="125.6" y2="957.2" stroke="#b0b0b0" stroke-width="1.19"/>
<line x1="205.78" y1="559.7" x2="205.78" y2="957.2" stroke="#b0b0b0" stroke-width="1.19"/>
<line x1="285.96" y1="559.7" x2="285.96" y2="957.2" stroke="#b0b0b0" stroke-width="1.19"/>
<line x1="366.14" y1="559.7" x2="366.14" y2="957.2" stroke="#b0b0b0" stroke-width="1.19"/>
<line x1="446.32" y1="559.7" x2="446.32" y2="957.2" stroke="#b0b0b0" stroke-width="1.19"/>
<line x1="526.5" y1="559.7" x2="526.5" y2="957.2" stroke="#b0b0b0" stroke-width="1.19"/>
<line x1="606.68" y1="559.7" x2="606.68" y2="957.2" stroke="#b0b0b0" stroke-width="1.19"/>
<line x1="75.3" y1="951.1" x2="609.4" y2="951.1" stroke="#b0b0b0" stroke-width="1.19"/>
<line x1="75.3" y1="866.97" x2="609.4" y2="866.97" stroke="#b0b0b0" stroke-width="1.19"/>
<line x1="75.3" y1="782.84" x2="609.4" y2="782.84" stroke="#b0b0b0" stroke-width="1.19"/>
<line x1="75.3" y1="698.71" x2="609.4" y2="698.71" stroke="#b0b0b0" stroke-width="1.19"/>
<line x1="75.3" y1="614.58" x2="609.4" y2="614.58" stroke="#b0b0b0" stroke-width="1.19"/>
<g clip-path="url(#Dc)">
<polyline points="99.9,939.5 221.2,655.4 342.5,642.5 463.8,610.2 585.1,614.7" fill="none" stroke="#008000" stroke-width="2.22" stroke-linejoin="round" stroke-linecap="square"/>
<path d="M99.9 935.05 L98.9 938.12 L95.67 938.12 L98.28 940.03 L97.28 943.1 L99.9 941.2 L102.52 943.1 L101.52 940.03 L104.13 938.12 L100.9 938.12 Z" fill="#008000" stroke="#008000" stroke-width="1.3" stroke-linejoin="bevel" stroke-miterlimit="2"/>
<path d="M221.2 650.95 L220.2 654.02 L216.97 654.02 L219.58 655.93 L218.58 659 L221.2 657.1 L223.82 659 L222.82 655.93 L225.43 654.02 L222.2 654.02 Z" fill="#008000" stroke="#008000" stroke-width="1.3" stroke-linejoin="bevel" stroke-miterlimit="2"/>
<path d="M342.5 638.05 L341.5 641.12 L338.27 641.12 L340.88 643.03 L339.88 646.1 L342.5 644.2 L345.12 646.1 L344.12 643.03 L346.73 641.12 L343.5 641.12 Z" fill="#008000" stroke="#008000" stroke-width="1.3" stroke-linejoin="bevel" stroke-miterlimit="2"/>
<path d="M463.8 605.75 L462.8 608.82 L459.57 608.82 L462.18 610.73 L461.18 613.8 L463.8 611.9 L466.42 613.8 L465.42 610.73 L468.03 608.82 L464.8 608.82 Z" fill="#008000" stroke="#008000" stroke-width="1.3" stroke-linejoin="bevel" stroke-miterlimit="2"/>
<path d="M585.1 610.25 L584.1 613.32 L580.87 613.32 L583.48 615.23 L582.48 618.3 L585.1 616.4 L587.72 618.3 L586.72 615.23 L589.33 613.32 L586.1 613.32 Z" fill="#008000" stroke="#008000" stroke-width="1.3" stroke-linejoin="bevel" stroke-miterlimit="2"/>
</g>
<g clip-path="url(#Dc)">
<polyline points="99.9,576.5 221.2,576.5 342.5,576.5 463.8,576.5 585.1,576.5" fill="none" stroke="#ff0000" stroke-width="1" stroke-linejoin="round" stroke-linecap="square"/>
<path d="M99.9 572.4 L95.8 580.6 L104 580.6 Z" fill="#ff0000" stroke="#ff0000" stroke-width="1.3" stroke-linejoin="miter" stroke-miterlimit="2"/>
<path d="M221.2 572.4 L217.1 580.6 L225.3 580.6 Z" fill="#ff0000" stroke="#ff0000" stroke-width="1.3" stroke-linejoin="miter" stroke-miterlimit="2"/>
<path d="M342.5 572.4 L338.4 580.6 L346.6 580.6 Z" fill="#ff0000" stroke="#ff0000" stroke-width="1.3" stroke-linejoin="miter" stroke-miterlimit="2"/>
<path d="M463.8 572.4 L459.7 580.6 L467.9 580.6 Z" fill="#ff0000" stroke="#ff0000" stroke-width="1.3" stroke-linejoin="miter" stroke-miterlimit="2"/>
<path d="M585.1 572.4 L581 580.6 L589.2 580.6 Z" fill="#ff0000" stroke="#ff0000" stroke-width="1.3" stroke-linejoin="miter" stroke-miterlimit="2"/>
</g>
<g clip-path="url(#Dc)">
<polyline points="99.9,576.5 221.2,576.5 342.5,576.5 463.8,576.5 585.1,576.5" fill="none" stroke="#808080" stroke-width="2.22" stroke-linejoin="round" stroke-linecap="square"/>
<path d="M99.9 580.6 L95.8 572.4 L104 572.4 Z" fill="#808080" stroke="#808080" stroke-width="1.3" stroke-linejoin="miter" stroke-miterlimit="2"/>
<path d="M221.2 580.6 L217.1 572.4 L225.3 572.4 Z" fill="#808080" stroke="#808080" stroke-width="1.3" stroke-linejoin="miter" stroke-miterlimit="2"/>
<path d="M342.5 580.6 L338.4 572.4 L346.6 572.4 Z" fill="#808080" stroke="#808080" stroke-width="1.3" stroke-linejoin="miter" stroke-miterlimit="2"/>
<path d="M463.8 580.6 L459.7 572.4 L467.9 572.4 Z" fill="#808080" stroke="#808080" stroke-width="1.3" stroke-linejoin="miter" stroke-miterlimit="2"/>
<path d="M585.1 580.6 L581 572.4 L589.2 572.4 Z" fill="#808080" stroke="#808080" stroke-width="1.3" stroke-linejoin="miter" stroke-miterlimit="2"/>
</g>
<rect x="75.3" y="559.7" width="534.1" height="397.5" fill="none" stroke="#000" stroke-width="1.19"/>
<line x1="125.6" y1="957.2" x2="125.6" y2="962.4" stroke="#000" stroke-width="1.19"/>
<text x="125.6" y="979.6" font-size="14.6" text-anchor="middle" font-family="'DejaVu Sans', 'Liberation Sans', sans-serif">5000</text>
<line x1="205.78" y1="957.2" x2="205.78" y2="962.4" stroke="#000" stroke-width="1.19"/>
<text x="205.78" y="979.6" font-size="14.6" text-anchor="middle" font-family="'DejaVu Sans', 'Liberation Sans', sans-serif">10000</text>
<line x1="285.96" y1="957.2" x2="285.96" y2="962.4" stroke="#000" stroke-width="1.19"/>
<text x="285.96" y="979.6" font-size="14.6" text-anchor="middle" font-family="'DejaVu Sans', 'Liberation Sans', sans-serif">15000</text>
<line x1="366.14" y1="957.2" x2="366.14" y2="962.4" stroke="#000" stroke-width="1.19"/>
<text x="366.14" y="979.6" font-size="14.6" text-anchor="middle" font-family="'DejaVu Sans', 'Liberation Sans', sans-serif">20000</text>
<line x1="446.32" y1="957.2" x2="446.32" y2="962.4" stroke="#000" stroke-width="1.19"/>
<text x="446.32" y="979.6" font-size="14.6" text-anchor="middle" font-family="'DejaVu Sans', 'Liberation Sans', sans-serif">25000</text>
<line x1="526.5" y1="957.2" x2="526.5" y2="962.4" stroke="#000" stroke-width="1.19"/>
<text x="526.5" y="979.6" font-size="14.6" text-anchor="middle" font-family="'DejaVu Sans', 'Liberation Sans', sans-serif">30000</text>
<line x1="606.68" y1="957.2" x2="606.68" y2="962.4" stroke="#000" stroke-width="1.19"/>
<text x="606.68" y="979.6" font-size="14.6" text-anchor="middle" font-family="'DejaVu Sans', 'Liberation Sans', sans-serif">35000</text>
<line x1="70.1" y1="951.1" x2="75.3" y2="951.1" stroke="#000" stroke-width="1.19"/>
<text x="64.9" y="956.8" font-size="14.6" text-anchor="end" font-family="'DejaVu Sans', 'Liberation Sans', sans-serif">0.93</text>
<line x1="70.1" y1="866.97" x2="75.3" y2="866.97" stroke="#000" stroke-width="1.19"/>
<text x="64.9" y="872.67" font-size="14.6" text-anchor="end" font-family="'DejaVu Sans', 'Liberation Sans', sans-serif">0.94</text>
<line x1="70.1" y1="782.84" x2="75.3" y2="782.84" stroke="#000" stroke-width="1.19"/>
<text x="64.9" y="788.54" font-size="14.6" text-anchor="end" font-family="'DejaVu Sans', 'Liberation Sans', sans-serif">0.95</text>
<line x1="70.1" y1="698.71" x2="75.3" y2="698.71" stroke="#000" stroke-width="1.19"/>
<text x="64.9" y="704.41" font-size="14.6" text-anchor="end" font-family="'DejaVu Sans', 'Liberation Sans', sans-serif">0.96</text>
<line x1="70.1" y1="614.58" x2="75.3" y2="614.58" stroke="#000" stroke-width="1.19"/>
<text x="64.9" y="620.28" font-size="14.6" text-anchor="end" font-family="'DejaVu Sans', 'Liberation Sans', sans-serif">0.97</text>
<text x="342.35" y="999.8" font-size="14.95" text-anchor="middle" font-family="'DejaVu Sans', 'Liberation Sans', sans-serif">Training examples</text>
<text x="0" y="0" font-size="14.95" text-anchor="middle" font-family="'DejaVu Sans', 'Liberation Sans', sans-serif" transform="translate(22.2 759.75) rotate(-90)">Score</text>
<text x="342.35" y="549.4" font-size="17.9" text-anchor="middle" font-family="'DejaVu Sans', 'Liberation Sans', sans-serif">Test Accuracy of Different Models</text>
<rect x="296.5" y="719.2" width="214.3" height="87" fill="#fff"/>
<g clip-path="url(#Di)">
<polyline points="137,764.1 243.5,764.1 350,764.1 456.5,764.1" fill="none" stroke="#808080" stroke-width="2.22" stroke-linejoin="round" stroke-linecap="square"/>
<path d="M137 768.2 L132.9 760 L141.1 760 Z" fill="#808080" stroke="#808080" stroke-width="1.3" stroke-linejoin="miter" stroke-miterlimit="2"/>
<path d="M243.5 768.2 L239.4 760 L247.6 760 Z" fill="#808080" stroke="#808080" stroke-width="1.3" stroke-linejoin="miter" stroke-miterlimit="2"/>
<path d="M350 768.2 L345.9 760 L354.1 760 Z" fill="#808080" stroke="#808080" stroke-width="1.3" stroke-linejoin="miter" stroke-miterlimit="2"/>
<path d="M456.5 768.2 L452.4 760 L460.6 760 Z" fill="#808080" stroke="#808080" stroke-width="1.3" stroke-linejoin="miter" stroke-miterlimit="2"/>
</g>
<g clip-path="url(#Di)">
<polyline points="137,764.6 243.5,764.6 350,764.6 456.5,764.6" fill="none" stroke="#ff0000" stroke-width="2.22" stroke-linejoin="round" stroke-linecap="square"/>
<path d="M137 760.5 L132.9 768.7 L141.1 768.7 Z" fill="#ff0000" stroke="#ff0000" stroke-width="1.3" stroke-linejoin="miter" stroke-miterlimit="2"/>
<path d="M243.5 760.5 L239.4 768.7 L247.6 768.7 Z" fill="#ff0000" stroke="#ff0000" stroke-width="1.3" stroke-linejoin="miter" stroke-miterlimit="2"/>
<path d="M350 760.5 L345.9 768.7 L354.1 768.7 Z" fill="#ff0000" stroke="#ff0000" stroke-width="1.3" stroke-linejoin="miter" stroke-miterlimit="2"/>
<path d="M456.5 760.5 L452.4 768.7 L460.6 768.7 Z" fill="#ff0000" stroke="#ff0000" stroke-width="1.3" stroke-linejoin="miter" stroke-miterlimit="2"/>
</g>
<rect x="296.5" y="719.2" width="214.3" height="87" fill="none" stroke="#000" stroke-width="1.19"/>
<line x1="334" y1="806.2" x2="334" y2="811.4" stroke="#000" stroke-width="1.19"/>
<text x="334" y="828.6" font-size="14.6" text-anchor="middle" font-family="'DejaVu Sans', 'Liberation Sans', sans-serif">25000</text>
<line x1="404.9" y1="806.2" x2="404.9" y2="811.4" stroke="#000" stroke-width="1.19"/>
<text x="404.9" y="828.6" font-size="14.6" text-anchor="middle" font-family="'DejaVu Sans', 'Liberation Sans', sans-serif">30000</text>
<line x1="475.6" y1="806.2" x2="475.6" y2="811.4" stroke="#000" stroke-width="1.19"/>
<text x="475.6" y="828.6" font-size="14.6" text-anchor="middle" font-family="'DejaVu Sans', 'Liberation Sans', sans-serif">35000</text>
<line x1="291.3" y1="719.2" x2="296.5" y2="719.2" stroke="#000" stroke-width="1.19"/>
<text x="286.1" y="724.9" font-size="14.6" text-anchor="end" font-family="'DejaVu Sans', 'Liberation Sans', sans-serif">0.975</text>
<line x1="291.3" y1="806.2" x2="296.5" y2="806.2" stroke="#000" stroke-width="1.19"/>
<text x="286.1" y="811.9" font-size="14.6" text-anchor="end" font-family="'DejaVu Sans', 'Liberation Sans', sans-serif">0.974</text>
<rect x="335.1" y="878.2" width="266.6" height="71.8" rx="3" ry="3" fill="#fff" fill-opacity="0.8" stroke="#cccccc" stroke-opacity="0.8" stroke-width="1.49"/>
<line x1="341" y1="890" x2="369.7" y2="890" stroke="#008000" stroke-width="2.22" stroke-linecap="square"/>
<path d="M355.4 885.55 L354.4 888.62 L351.17 888.62 L353.78 890.53 L352.78 893.6 L355.4 891.7 L358.02 893.6 L357.02 890.53 L359.63 888.62 L356.4 888.62 Z" fill="#008000" stroke="#008000" stroke-width="1.3" stroke-linejoin="bevel" stroke-miterlimit="2"/>
<text x="381.6" y="895.45" font-size="14.95" text-anchor="start" font-family="'DejaVu Sans', 'Liberation Sans', sans-serif">XGBoost score, SD = 0.0048</text>
<line x1="341" y1="912.6" x2="369.7" y2="912.6" stroke="#ff0000" stroke-width="2.22" stroke-linecap="square"/>
<path d="M355.4 908.5 L351.3 916.7 L359.5 916.7 Z" fill="#ff0000" stroke="#ff0000" stroke-width="1.3" stroke-linejoin="miter" stroke-miterlimit="2"/>
<text x="381.6" y="918.05" font-size="14.95" text-anchor="start" font-family="'DejaVu Sans', 'Liberation Sans', sans-serif">SVM scoreSD = 0.0001</text>
<line x1="341" y1="935.2" x2="369.7" y2="935.2" stroke="#808080" stroke-width="2.22" stroke-linecap="square"/>
<path d="M355.4 939.3 L351.3 931.1 L359.5 931.1 Z" fill="#808080" stroke="#808080" stroke-width="1.3" stroke-linejoin="miter" stroke-miterlimit="2"/>
<text x="381.6" y="940.65" font-size="14.95" text-anchor="start" font-family="'DejaVu Sans', 'Liberation Sans', sans-serif">DNN scoreSD = 0.0001</text>
<text x="0" y="0" font-size="46" text-anchor="start" font-family="'Liberation Serif', 'Times New Roman', serif" transform="translate(4.6 556) scale(1.0 1.0)">D</text>
<rect x="739.3" y="559" width="534.2" height="397.5" fill="#fff"/>
<line x1="796.7" y1="559" x2="796.7" y2="956.5" stroke="#b0b0b0" stroke-width="1.19"/>
<line x1="883.92" y1="559" x2="883.92" y2="956.5" stroke="#b0b0b0" stroke-width="1.19"/>
<line x1="971.14" y1="559" x2="971.14" y2="956.5" stroke="#b0b0b0" stroke-width="1.19"/>
<line x1="1058.36" y1="559" x2="1058.36" y2="956.5" stroke="#b0b0b0" stroke-width="1.19"/>
<line x1="1145.58" y1="559" x2="1145.58" y2="956.5" stroke="#b0b0b0" stroke-width="1.19"/>
<line x1="1232.8" y1="559" x2="1232.8" y2="956.5" stroke="#b0b0b0" stroke-width="1.19"/>
<line x1="739.3" y1="944.1" x2="1273.5" y2="944.1" stroke="#b0b0b0" stroke-width="1.19"/>
<line x1="739.3" y1="886.68" x2="1273.5" y2="886.68" stroke="#b0b0b0" stroke-width="1.19"/>
<line x1="739.3" y1="829.26" x2="1273.5" y2="829.26" stroke="#b0b0b0" stroke-width="1.19"/>
<line x1="739.3" y1="771.84" x2="1273.5" y2="771.84" stroke="#b0b0b0" stroke-width="1.19"/>
<line x1="739.3" y1="714.42" x2="1273.5" y2="714.42" stroke="#b0b0b0" stroke-width="1.19"/>
<line x1="739.3" y1="657" x2="1273.5" y2="657" stroke="#b0b0b0" stroke-width="1.19"/>
<line x1="739.3" y1="599.58" x2="1273.5" y2="599.58" stroke="#b0b0b0" stroke-width="1.19"/>
<g clip-path="url(#Ec)">
<polyline points="763.6,937.9 884.93,599.8 1006.26,608.2 1127.59,635 1248.92,612.7" fill="none" stroke="#008000" stroke-width="2.22" stroke-linejoin="round" stroke-linecap="square"/>
<path d="M763.6 933.45 L762.6 936.52 L759.37 936.52 L761.98 938.43 L760.98 941.5 L763.6 939.6 L766.22 941.5 L765.22 938.43 L767.83 936.52 L764.6 936.52 Z" fill="#008000" stroke="#008000" stroke-width="1.3" stroke-linejoin="bevel" stroke-miterlimit="2"/>
<path d="M884.93 595.35 L883.93 598.42 L880.7 598.42 L883.31 600.33 L882.31 603.4 L884.93 601.5 L887.55 603.4 L886.55 600.33 L889.16 598.42 L885.93 598.42 Z" fill="#008000" stroke="#008000" stroke-width="1.3" stroke-linejoin="bevel" stroke-miterlimit="2"/>
<path d="M1006.26 603.75 L1005.26 606.82 L1002.03 606.82 L1004.64 608.73 L1003.64 611.8 L1006.26 609.9 L1008.88 611.8 L1007.88 608.73 L1010.49 606.82 L1007.26 606.82 Z" fill="#008000" stroke="#008000" stroke-width="1.3" stroke-linejoin="bevel" stroke-miterlimit="2"/>
<path d="M1127.59 630.55 L1126.59 633.62 L1123.36 633.62 L1125.97 635.53 L1124.97 638.6 L1127.59 636.7 L1130.21 638.6 L1129.21 635.53 L1131.82 633.62 L1128.59 633.62 Z" fill="#008000" stroke="#008000" stroke-width="1.3" stroke-linejoin="bevel" stroke-miterlimit="2"/>
<path d="M1248.92 608.25 L1247.92 611.32 L1244.69 611.32 L1247.3 613.23 L1246.3 616.3 L1248.92 614.4 L1251.54 616.3 L1250.54 613.23 L1253.15 611.32 L1249.92 611.32 Z" fill="#008000" stroke="#008000" stroke-width="1.3" stroke-linejoin="bevel" stroke-miterlimit="2"/>
</g>
<g clip-path="url(#Ec)">
<polyline points="763.6,575.5 884.93,575.5 1006.26,575.5 1127.59,575.5 1248.92,575.5" fill="none" stroke="#ff0000" stroke-width="1" stroke-linejoin="round" stroke-linecap="square"/>
<path d="M763.6 571.4 L759.5 579.6 L767.7 579.6 Z" fill="#ff0000" stroke="#ff0000" stroke-width="1.3" stroke-linejoin="miter" stroke-miterlimit="2"/>
<path d="M884.93 571.4 L880.83 579.6 L889.03 579.6 Z" fill="#ff0000" stroke="#ff0000" stroke-width="1.3" stroke-linejoin="miter" stroke-miterlimit="2"/>
<path d="M1006.26 571.4 L1002.16 579.6 L1010.36 579.6 Z" fill="#ff0000" stroke="#ff0000" stroke-width="1.3" stroke-linejoin="miter" stroke-miterlimit="2"/>
<path d="M1127.59 571.4 L1123.49 579.6 L1131.69 579.6 Z" fill="#ff0000" stroke="#ff0000" stroke-width="1.3" stroke-linejoin="miter" stroke-miterlimit="2"/>
<path d="M1248.92 571.4 L1244.82 579.6 L1253.02 579.6 Z" fill="#ff0000" stroke="#ff0000" stroke-width="1.3" stroke-linejoin="miter" stroke-miterlimit="2"/>
</g>
<g clip-path="url(#Ec)">
<polyline points="763.6,575.5 884.93,575.5 1006.26,575.5 1127.59,575.5 1248.92,575.5" fill="none" stroke="#808080" stroke-width="2.22" stroke-linejoin="round" stroke-linecap="square"/>
<path d="M763.6 579.6 L759.5 571.4 L767.7 571.4 Z" fill="#808080" stroke="#808080" stroke-width="1.3" stroke-linejoin="miter" stroke-miterlimit="2"/>
<path d="M884.93 579.6 L880.83 571.4 L889.03 571.4 Z" fill="#808080" stroke="#808080" stroke-width="1.3" stroke-linejoin="miter" stroke-miterlimit="2"/>
<path d="M1006.26 579.6 L1002.16 571.4 L1010.36 571.4 Z" fill="#808080" stroke="#808080" stroke-width="1.3" stroke-linejoin="miter" stroke-miterlimit="2"/>
<path d="M1127.59 579.6 L1123.49 571.4 L1131.69 571.4 Z" fill="#808080" stroke="#808080" stroke-width="1.3" stroke-linejoin="miter" stroke-miterlimit="2"/>
<path d="M1248.92 579.6 L1244.82 571.4 L1253.02 571.4 Z" fill="#808080" stroke="#808080" stroke-width="1.3" stroke-linejoin="miter" stroke-miterlimit="2"/>
</g>
<rect x="739.3" y="559" width="534.2" height="397.5" fill="none" stroke="#000" stroke-width="1.19"/>
<line x1="796.7" y1="956.5" x2="796.7" y2="961.7" stroke="#000" stroke-width="1.19"/>
<text x="796.7" y="978.9" font-size="14.6" text-anchor="middle" font-family="'DejaVu Sans', 'Liberation Sans', sans-serif">1000</text>
<line x1="883.92" y1="956.5" x2="883.92" y2="961.7" stroke="#000" stroke-width="1.19"/>
<text x="883.92" y="978.9" font-size="14.6" text-anchor="middle" font-family="'DejaVu Sans', 'Liberation Sans', sans-serif">2000</text>
<line x1="971.14" y1="956.5" x2="971.14" y2="961.7" stroke="#000" stroke-width="1.19"/>
<text x="971.14" y="978.9" font-size="14.6" text-anchor="middle" font-family="'DejaVu Sans', 'Liberation Sans', sans-serif">3000</text>
<line x1="1058.36" y1="956.5" x2="1058.36" y2="961.7" stroke="#000" stroke-width="1.19"/>
<text x="1058.36" y="978.9" font-size="14.6" text-anchor="middle" font-family="'DejaVu Sans', 'Liberation Sans', sans-serif">4000</text>
<line x1="1145.58" y1="956.5" x2="1145.58" y2="961.7" stroke="#000" stroke-width="1.19"/>
<text x="1145.58" y="978.9" font-size="14.6" text-anchor="middle" font-family="'DejaVu Sans', 'Liberation Sans', sans-serif">5000</text>
<line x1="1232.8" y1="956.5" x2="1232.8" y2="961.7" stroke="#000" stroke-width="1.19"/>
<text x="1232.8" y="978.9" font-size="14.6" text-anchor="middle" font-family="'DejaVu Sans', 'Liberation Sans', sans-serif">6000</text>
<line x1="734.1" y1="944.1" x2="739.3" y2="944.1" stroke="#000" stroke-width="1.19"/>
<text x="728.9" y="949.8" font-size="14.6" text-anchor="end" font-family="'DejaVu Sans', 'Liberation Sans', sans-serif">0.945</text>
<line x1="734.1" y1="886.68" x2="739.3" y2="886.68" stroke="#000" stroke-width="1.19"/>
<text x="728.9" y="892.38" font-size="14.6" text-anchor="end" font-family="'DejaVu Sans', 'Liberation Sans', sans-serif">0.950</text>
<line x1="734.1" y1="829.26" x2="739.3" y2="829.26" stroke="#000" stroke-width="1.19"/>
<text x="728.9" y="834.96" font-size="14.6" text-anchor="end" font-family="'DejaVu Sans', 'Liberation Sans', sans-serif">0.955</text>
<line x1="734.1" y1="771.84" x2="739.3" y2="771.84" stroke="#000" stroke-width="1.19"/>
<text x="728.9" y="777.54" font-size="14.6" text-anchor="end" font-family="'DejaVu Sans', 'Liberation Sans', sans-serif">0.960</text>
<line x1="734.1" y1="714.42" x2="739.3" y2="714.42" stroke="#000" stroke-width="1.19"/>
<text x="728.9" y="720.12" font-size="14.6" text-anchor="end" font-family="'DejaVu Sans', 'Liberation Sans', sans-serif">0.965</text>
<line x1="734.1" y1="657" x2="739.3" y2="657" stroke="#000" stroke-width="1.19"/>
<text x="728.9" y="662.7" font-size="14.6" text-anchor="end" font-family="'DejaVu Sans', 'Liberation Sans', sans-serif">0.970</text>
<line x1="734.1" y1="599.58" x2="739.3" y2="599.58" stroke="#000" stroke-width="1.19"/>
<text x="728.9" y="605.28" font-size="14.6" text-anchor="end" font-family="'DejaVu Sans', 'Liberation Sans', sans-serif">0.975</text>
<text x="1006.4" y="999.1" font-size="14.95" text-anchor="middle" font-family="'DejaVu Sans', 'Liberation Sans', sans-serif">Training examples</text>
<text x="0" y="0" font-size="14.95" text-anchor="middle" font-family="'DejaVu Sans', 'Liberation Sans', sans-serif" transform="translate(676.6 759.05) rotate(-90)">Score</text>
<text x="1006.4" y="548.7" font-size="17.9" text-anchor="middle" font-family="'DejaVu Sans', 'Liberation Sans', sans-serif">Test Accuracy of Different Models</text>
<rect x="960.2" y="718.1" width="214.2" height="87.2" fill="#fff"/>
<g clip-path="url(#Ei)">
<polyline points="801,759.7 907.6,759.7 1014.2,759.7 1120.8,759.7" fill="none" stroke="#808080" stroke-width="2.22" stroke-linejoin="round" stroke-linecap="square"/>
<path d="M801 763.8 L796.9 755.6 L805.1 755.6 Z" fill="#808080" stroke="#808080" stroke-width="1.3" stroke-linejoin="miter" stroke-miterlimit="2"/>
<path d="M907.6 763.8 L903.5 755.6 L911.7 755.6 Z" fill="#808080" stroke="#808080" stroke-width="1.3" stroke-linejoin="miter" stroke-miterlimit="2"/>
<path d="M1014.2 763.8 L1010.1 755.6 L1018.3 755.6 Z" fill="#808080" stroke="#808080" stroke-width="1.3" stroke-linejoin="miter" stroke-miterlimit="2"/>
<path d="M1120.8 763.8 L1116.7 755.6 L1124.9 755.6 Z" fill="#808080" stroke="#808080" stroke-width="1.3" stroke-linejoin="miter" stroke-miterlimit="2"/>
</g>
<g clip-path="url(#Ei)">
<polyline points="801,760.2 907.6,760.2 1014.2,760.2 1120.8,760.2" fill="none" stroke="#ff0000" stroke-width="2.22" stroke-linejoin="round" stroke-linecap="square"/>
<path d="M801 756.1 L796.9 764.3 L805.1 764.3 Z" fill="#ff0000" stroke="#ff0000" stroke-width="1.3" stroke-linejoin="miter" stroke-miterlimit="2"/>
<path d="M907.6 756.1 L903.5 764.3 L911.7 764.3 Z" fill="#ff0000" stroke="#ff0000" stroke-width="1.3" stroke-linejoin="miter" stroke-miterlimit="2"/>
<path d="M1014.2 756.1 L1010.1 764.3 L1018.3 764.3 Z" fill="#ff0000" stroke="#ff0000" stroke-width="1.3" stroke-linejoin="miter" stroke-miterlimit="2"/>
<path d="M1120.8 756.1 L1116.7 764.3 L1124.9 764.3 Z" fill="#ff0000" stroke="#ff0000" stroke-width="1.3" stroke-linejoin="miter" stroke-miterlimit="2"/>
</g>
<rect x="960.2" y="718.1" width="214.2" height="87.2" fill="none" stroke="#000" stroke-width="1.19"/>
<line x1="1029.1" y1="805.3" x2="1029.1" y2="810.5" stroke="#000" stroke-width="1.19"/>
<text x="1029.1" y="827.7" font-size="14.6" text-anchor="middle" font-family="'DejaVu Sans', 'Liberation Sans', sans-serif">5000</text>
<line x1="1106.4" y1="805.3" x2="1106.4" y2="810.5" stroke="#000" stroke-width="1.19"/>
<text x="1106.4" y="827.7" font-size="14.6" text-anchor="middle" font-family="'DejaVu Sans', 'Liberation Sans', sans-serif">6000</text>
<line x1="955" y1="718.1" x2="960.2" y2="718.1" stroke="#000" stroke-width="1.19"/>
<text x="949.8" y="723.8" font-size="14.6" text-anchor="end" font-family="'DejaVu Sans', 'Liberation Sans', sans-serif">0.978</text>
<line x1="955" y1="805.3" x2="960.2" y2="805.3" stroke="#000" stroke-width="1.19"/>
<text x="949.8" y="811" font-size="14.6" text-anchor="end" font-family="'DejaVu Sans', 'Liberation Sans', sans-serif">0.976</text>
<rect x="999.3" y="877.1" width="266.6" height="71.8" rx="3" ry="3" fill="#fff" fill-opacity="0.8" stroke="#cccccc" stroke-opacity="0.8" stroke-width="1.49"/>
<line x1="1005.2" y1="888.9" x2="1033.9" y2="888.9" stroke="#008000" stroke-width="2.22" stroke-linecap="square"/>
<path d="M1019.6 884.45 L1018.6 887.52 L1015.37 887.52 L1017.98 889.43 L1016.98 892.5 L1019.6 890.6 L1022.22 892.5 L1021.22 889.43 L1023.83 887.52 L1020.6 887.52 Z" fill="#008000" stroke="#008000" stroke-width="1.3" stroke-linejoin="bevel" stroke-miterlimit="2"/>
<text x="1045.8" y="894.35" font-size="14.95" text-anchor="start" font-family="'DejaVu Sans', 'Liberation Sans', sans-serif">XGBoost score, SD = 0.0046</text>
<line x1="1005.2" y1="911.5" x2="1033.9" y2="911.5" stroke="#ff0000" stroke-width="2.22" stroke-linecap="square"/>
<path d="M1019.6 907.4 L1015.5 915.6 L1023.7 915.6 Z" fill="#ff0000" stroke="#ff0000" stroke-width="1.3" stroke-linejoin="miter" stroke-miterlimit="2"/>
<text x="1045.8" y="916.95" font-size="14.95" text-anchor="start" font-family="'DejaVu Sans', 'Liberation Sans', sans-serif">SVM scoreSD = 0.0006</text>
<line x1="1005.2" y1="934.1" x2="1033.9" y2="934.1" stroke="#808080" stroke-width="2.22" stroke-linecap="square"/>
<path d="M1019.6 938.2 L1015.5 930 L1023.7 930 Z" fill="#808080" stroke="#808080" stroke-width="1.3" stroke-linejoin="miter" stroke-miterlimit="2"/>
<text x="1045.8" y="939.55" font-size="14.95" text-anchor="start" font-family="'DejaVu Sans', 'Liberation Sans', sans-serif">DNN scoreSD = 0.0006</text>
<text x="0" y="0" font-size="46" text-anchor="start" font-family="'Liberation Serif', 'Times New Roman', serif" transform="translate(658.4 554.8) scale(1.125 1.0)">E</text>
</svg>
</body></html>
